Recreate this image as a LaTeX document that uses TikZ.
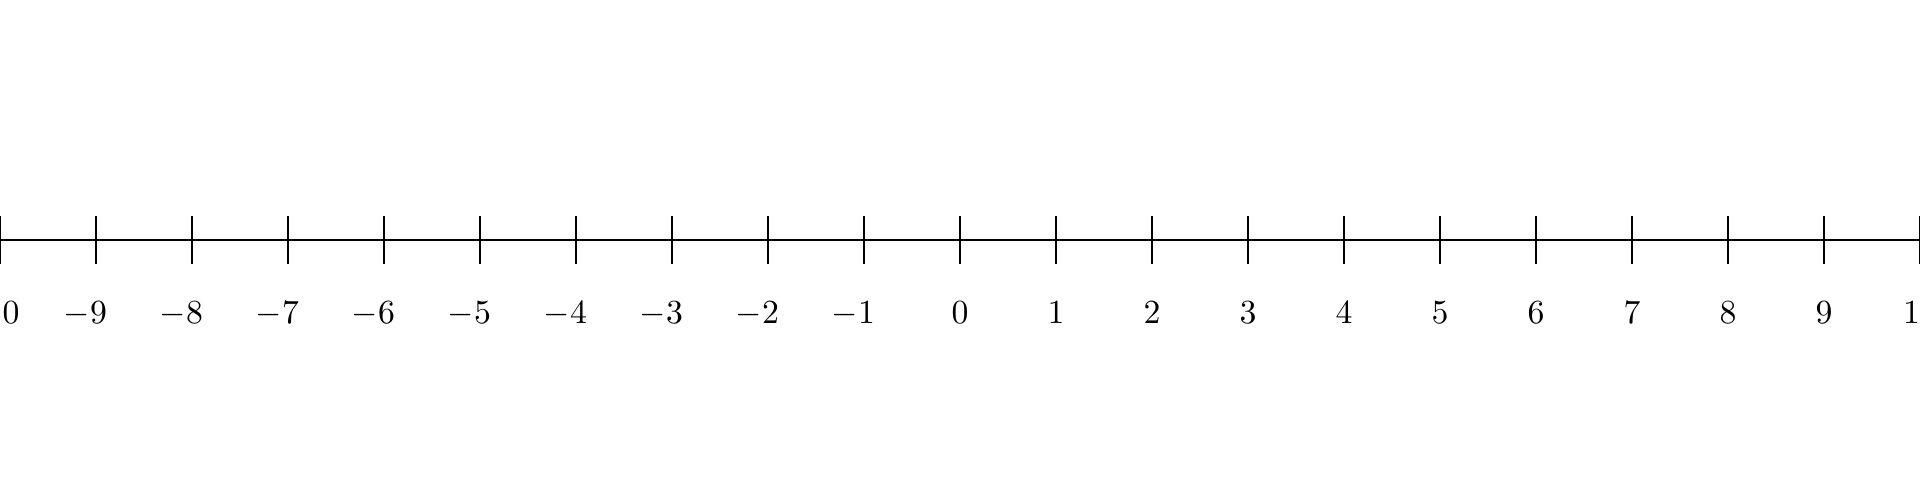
\documentclass[tikz,border=0pt]{standalone}
\begin{document}
\begin{tikzpicture}[
  axisline/.style={line width=0.8pt, black},
  tickmark/.style={line width=0.8pt, black},
  ticklabel/.style={anchor=base, inner sep=0pt, font=\normalsize}
]
\useasboundingbox (0,-2.5) rectangle (20,2.5);
\coordinate (L) at (0,0);
\coordinate (R) at (20,0);
\draw[axisline] (L) -- (R);
\foreach \i in {-10,...,10} {
  \coordinate (t\i) at ({\i+10},0);
  \draw[tickmark] ([yshift=-0.245cm]t\i) -- ([yshift=0.245cm]t\i);
  \ifnum\i<0
    \node[ticklabel] (lab\i) at ([yshift=-0.875cm,xshift=-0.11cm]t\i) {$\i$};
  \else
    \node[ticklabel] (lab\i) at ([yshift=-0.875cm]t\i) {$\i$};
  \fi
}
\end{tikzpicture}
\end{document}
